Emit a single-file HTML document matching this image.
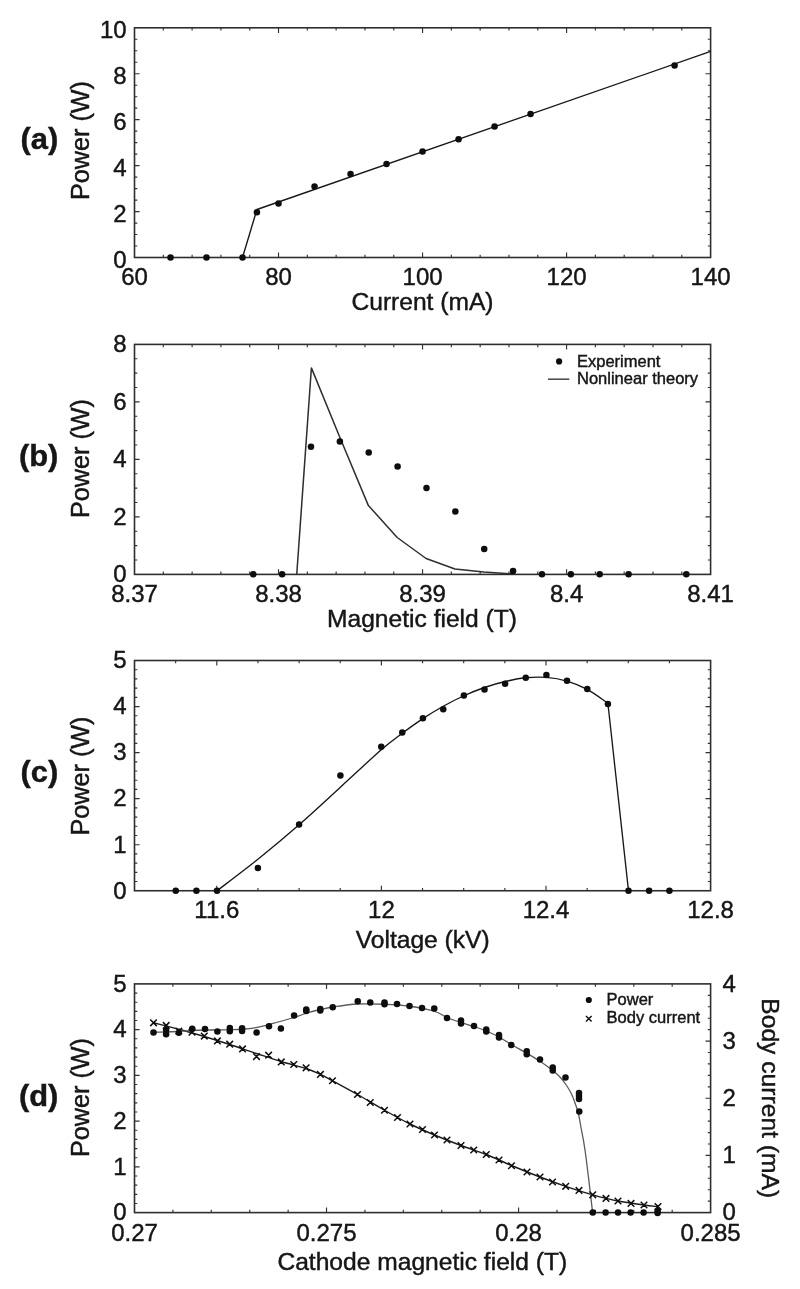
<!DOCTYPE html>
<html lang="en">
<head>
<meta charset="utf-8">
<title>Figure: power versus current, magnetic field, voltage and cathode magnetic field</title>
<style>
html,body{margin:0;padding:0;background:#fff;}
body{width:800px;height:1289px;overflow:hidden;}
svg{display:block;}
svg text{font-family:"Liberation Sans", sans-serif;fill:#141414;stroke:#141414;stroke-width:0.42px;}
</style>
</head>
<body>
<svg width="800" height="1289" viewBox="0 0 800 1289">
<rect width="800" height="1289" fill="#ffffff"/>
<g filter="url(#soft)">
<rect x="134.5" y="27.8" width="576.1" height="229.7" fill="none" stroke="#2e2e2e" stroke-width="1.6"/>
<path d="M163.31 257.5v-2.8M163.31 27.8v2.8M192.11 257.5v-2.8M192.11 27.8v2.8M220.92 257.5v-2.8M220.92 27.8v2.8M249.72 257.5v-2.8M249.72 27.8v2.8M278.52 257.5v-5.1M278.52 27.8v5.1M307.33 257.5v-2.8M307.33 27.8v2.8M336.13 257.5v-2.8M336.13 27.8v2.8M364.94 257.5v-2.8M364.94 27.8v2.8M393.75 257.5v-2.8M393.75 27.8v2.8M422.55 257.5v-5.1M422.55 27.8v5.1M451.36 257.5v-2.8M451.36 27.8v2.8M480.16 257.5v-2.8M480.16 27.8v2.8M508.97 257.5v-2.8M508.97 27.8v2.8M537.77 257.5v-2.8M537.77 27.8v2.8M566.58 257.5v-5.1M566.58 27.8v5.1M595.38 257.5v-2.8M595.38 27.8v2.8M624.18 257.5v-2.8M624.18 27.8v2.8M652.99 257.5v-2.8M652.99 27.8v2.8M681.79 257.5v-2.8M681.79 27.8v2.8M134.5 246.01h2.8M710.6 246.01h-2.8M134.5 234.53h2.8M710.6 234.53h-2.8M134.5 223.05h2.8M710.6 223.05h-2.8M134.5 211.56h5.1M710.6 211.56h-5.1M134.5 200.07h2.8M710.6 200.07h-2.8M134.5 188.59h2.8M710.6 188.59h-2.8M134.5 177.11h2.8M710.6 177.11h-2.8M134.5 165.62h5.1M710.6 165.62h-5.1M134.5 154.13h2.8M710.6 154.13h-2.8M134.5 142.65h2.8M710.6 142.65h-2.8M134.5 131.16h2.8M710.6 131.16h-2.8M134.5 119.68h5.1M710.6 119.68h-5.1M134.5 108.19h2.8M710.6 108.19h-2.8M134.5 96.71h2.8M710.6 96.71h-2.8M134.5 85.23h2.8M710.6 85.23h-2.8M134.5 73.74h5.1M710.6 73.74h-5.1M134.5 62.26h2.8M710.6 62.26h-2.8M134.5 50.77h2.8M710.6 50.77h-2.8M134.5 39.29h2.8M710.6 39.29h-2.8" stroke="#333" stroke-width="1.15" fill="none"/>
<text transform="translate(134.5 284.7) scale(1.0 1)" font-size="24" text-anchor="middle">60</text>
<text transform="translate(278.52 284.7) scale(1.0 1)" font-size="24" text-anchor="middle">80</text>
<text transform="translate(422.55 284.7) scale(1.0 1)" font-size="24" text-anchor="middle">100</text>
<text transform="translate(566.58 284.7) scale(1.0 1)" font-size="24" text-anchor="middle">120</text>
<text transform="translate(710.6 284.7) scale(1.0 1)" font-size="24" text-anchor="middle">140</text>
<text transform="translate(126.6 268) scale(1.0 1)" font-size="24" text-anchor="end">0</text>
<text transform="translate(126.6 222.06) scale(1.0 1)" font-size="24" text-anchor="end">2</text>
<text transform="translate(126.6 176.12) scale(1.0 1)" font-size="24" text-anchor="end">4</text>
<text transform="translate(126.6 130.18) scale(1.0 1)" font-size="24" text-anchor="end">6</text>
<text transform="translate(126.6 84.24) scale(1.0 1)" font-size="24" text-anchor="end">8</text>
<text transform="translate(126.6 38.3) scale(1.0 1)" font-size="24" text-anchor="end">10</text>
<path d="M242.52 257.5L256.92 209.49L710.6 51.46" stroke="#161616" stroke-width="1.35" fill="none" stroke-linejoin="round"/>
<g fill="#0a0a0a"><circle cx="170.51" cy="257.5" r="3.25"/><circle cx="206.51" cy="257.5" r="3.25"/><circle cx="242.52" cy="257.5" r="3.25"/><circle cx="256.92" cy="212.25" r="3.25"/><circle cx="278.52" cy="203.52" r="3.25"/><circle cx="314.53" cy="186.52" r="3.25"/><circle cx="350.54" cy="174.12" r="3.25"/><circle cx="386.54" cy="164.01" r="3.25"/><circle cx="422.55" cy="151.38" r="3.25"/><circle cx="458.56" cy="139.2" r="3.25"/><circle cx="494.56" cy="126.57" r="3.25"/><circle cx="530.57" cy="113.94" r="3.25"/><circle cx="674.59" cy="65.47" r="3.25"/></g>
<text transform="translate(422.5 310.3) scale(1.025 1)" font-size="24" text-anchor="middle">Current (mA)</text>
<text transform="translate(89 140.5) rotate(-90) scale(1 1)" font-size="25.2" text-anchor="middle">Power (W)</text>
<text transform="translate(39.4 149.2) scale(1.03 1)" font-size="30" text-anchor="middle" font-weight="bold">(a)</text>
<rect x="134.5" y="344.4" width="576.1" height="230" fill="none" stroke="#2e2e2e" stroke-width="1.6"/>
<path d="M163.31 574.4v-2.8M163.31 344.4v2.8M192.11 574.4v-2.8M192.11 344.4v2.8M220.92 574.4v-2.8M220.92 344.4v2.8M249.72 574.4v-2.8M249.72 344.4v2.8M278.52 574.4v-5.1M278.52 344.4v5.1M307.33 574.4v-2.8M307.33 344.4v2.8M336.13 574.4v-2.8M336.13 344.4v2.8M364.94 574.4v-2.8M364.94 344.4v2.8M393.75 574.4v-2.8M393.75 344.4v2.8M422.55 574.4v-5.1M422.55 344.4v5.1M451.35 574.4v-2.8M451.35 344.4v2.8M480.16 574.4v-2.8M480.16 344.4v2.8M508.96 574.4v-2.8M508.96 344.4v2.8M537.77 574.4v-2.8M537.77 344.4v2.8M566.57 574.4v-5.1M566.57 344.4v5.1M595.38 574.4v-2.8M595.38 344.4v2.8M624.18 574.4v-2.8M624.18 344.4v2.8M652.99 574.4v-2.8M652.99 344.4v2.8M681.79 574.4v-2.8M681.79 344.4v2.8M134.5 560.02h2.8M710.6 560.02h-2.8M134.5 545.65h2.8M710.6 545.65h-2.8M134.5 531.27h2.8M710.6 531.27h-2.8M134.5 516.9h5.1M710.6 516.9h-5.1M134.5 502.52h2.8M710.6 502.52h-2.8M134.5 488.15h2.8M710.6 488.15h-2.8M134.5 473.77h2.8M710.6 473.77h-2.8M134.5 459.4h5.1M710.6 459.4h-5.1M134.5 445.02h2.8M710.6 445.02h-2.8M134.5 430.65h2.8M710.6 430.65h-2.8M134.5 416.27h2.8M710.6 416.27h-2.8M134.5 401.9h5.1M710.6 401.9h-5.1M134.5 387.52h2.8M710.6 387.52h-2.8M134.5 373.15h2.8M710.6 373.15h-2.8M134.5 358.77h2.8M710.6 358.77h-2.8" stroke="#333" stroke-width="1.15" fill="none"/>
<text transform="translate(134.5 601.6) scale(1.0 1)" font-size="24" text-anchor="middle">8.37</text>
<text transform="translate(278.52 601.6) scale(1.0 1)" font-size="24" text-anchor="middle">8.38</text>
<text transform="translate(422.55 601.6) scale(1.0 1)" font-size="24" text-anchor="middle">8.39</text>
<text transform="translate(566.57 601.6) scale(1.0 1)" font-size="24" text-anchor="middle">8.4</text>
<text transform="translate(710.6 601.6) scale(1.0 1)" font-size="24" text-anchor="middle">8.41</text>
<text transform="translate(126.6 582.2) scale(1.0 1)" font-size="24" text-anchor="end">0</text>
<text transform="translate(126.6 524.7) scale(1.0 1)" font-size="24" text-anchor="end">2</text>
<text transform="translate(126.6 467.2) scale(1.0 1)" font-size="24" text-anchor="end">4</text>
<text transform="translate(126.6 409.7) scale(1.0 1)" font-size="24" text-anchor="end">6</text>
<text transform="translate(126.6 352.2) scale(1.0 1)" font-size="24" text-anchor="end">8</text>
<path d="M296.75 574.4L311.4 367.9L339.5 436.5L368.4 505.6L397.2 537.5L426.1 558.5L455 569L483.9 572L512.7 574" stroke="#2e2e2e" stroke-width="1.5" fill="none" stroke-linejoin="round"/>
<g fill="#0a0a0a"><circle cx="253.25" cy="574.2" r="3.25"/><circle cx="282.12" cy="574.2" r="3.25"/><circle cx="310.99" cy="446.7" r="3.25"/><circle cx="339.86" cy="441.5" r="3.25"/><circle cx="368.73" cy="452.4" r="3.25"/><circle cx="397.6" cy="466.6" r="3.25"/><circle cx="426.47" cy="488" r="3.25"/><circle cx="455.34" cy="511.6" r="3.25"/><circle cx="484.21" cy="549.1" r="3.25"/><circle cx="513.08" cy="570.9" r="3.25"/><circle cx="541.95" cy="574.2" r="3.25"/><circle cx="570.82" cy="574.2" r="3.25"/><circle cx="599.69" cy="574.2" r="3.25"/><circle cx="628.56" cy="574.2" r="3.25"/><circle cx="686.3" cy="574.2" r="3.25"/></g>
<g fill="#0a0a0a"><circle cx="559.1" cy="361.4" r="3.1"/></g>
<line x1="548" y1="379.2" x2="569.3" y2="379.2" stroke="#444" stroke-width="1.5"/>
<text transform="translate(577 366.6) scale(1.0 1)" font-size="16.5" text-anchor="start">Experiment</text>
<text transform="translate(577 384.3) scale(1.0 1)" font-size="16.5" text-anchor="start">Nonlinear theory</text>
<text transform="translate(422 626.6) scale(1.025 1)" font-size="24" text-anchor="middle">Magnetic field (T)</text>
<text transform="translate(89 458.5) rotate(-90) scale(1 1)" font-size="25.2" text-anchor="middle">Power (W)</text>
<text transform="translate(38.6 466.2) scale(1.03 1)" font-size="30" text-anchor="middle" font-weight="bold">(b)</text>
<rect x="134.5" y="660.5" width="576.1" height="230.25" fill="none" stroke="#2e2e2e" stroke-width="1.6"/>
<path d="M175.65 890.75v-2.8M175.65 660.5v2.8M216.8 890.75v-5.1M216.8 660.5v5.1M257.95 890.75v-2.8M257.95 660.5v2.8M299.1 890.75v-2.8M299.1 660.5v2.8M340.25 890.75v-2.8M340.25 660.5v2.8M381.4 890.75v-5.1M381.4 660.5v5.1M422.55 890.75v-2.8M422.55 660.5v2.8M463.7 890.75v-2.8M463.7 660.5v2.8M504.85 890.75v-2.8M504.85 660.5v2.8M546 890.75v-5.1M546 660.5v5.1M587.15 890.75v-2.8M587.15 660.5v2.8M628.3 890.75v-2.8M628.3 660.5v2.8M669.45 890.75v-2.8M669.45 660.5v2.8M134.5 881.54h2.8M710.6 881.54h-2.8M134.5 872.33h2.8M710.6 872.33h-2.8M134.5 863.12h2.8M710.6 863.12h-2.8M134.5 853.91h2.8M710.6 853.91h-2.8M134.5 844.7h5.1M710.6 844.7h-5.1M134.5 835.49h2.8M710.6 835.49h-2.8M134.5 826.28h2.8M710.6 826.28h-2.8M134.5 817.07h2.8M710.6 817.07h-2.8M134.5 807.86h2.8M710.6 807.86h-2.8M134.5 798.65h5.1M710.6 798.65h-5.1M134.5 789.44h2.8M710.6 789.44h-2.8M134.5 780.23h2.8M710.6 780.23h-2.8M134.5 771.02h2.8M710.6 771.02h-2.8M134.5 761.81h2.8M710.6 761.81h-2.8M134.5 752.6h5.1M710.6 752.6h-5.1M134.5 743.39h2.8M710.6 743.39h-2.8M134.5 734.18h2.8M710.6 734.18h-2.8M134.5 724.97h2.8M710.6 724.97h-2.8M134.5 715.76h2.8M710.6 715.76h-2.8M134.5 706.55h5.1M710.6 706.55h-5.1M134.5 697.34h2.8M710.6 697.34h-2.8M134.5 688.13h2.8M710.6 688.13h-2.8M134.5 678.92h2.8M710.6 678.92h-2.8M134.5 669.71h2.8M710.6 669.71h-2.8" stroke="#333" stroke-width="1.15" fill="none"/>
<text transform="translate(216.8 917.95) scale(1.0 1)" font-size="24" text-anchor="middle">11.6</text>
<text transform="translate(381.4 917.95) scale(1.0 1)" font-size="24" text-anchor="middle">12</text>
<text transform="translate(546 917.95) scale(1.0 1)" font-size="24" text-anchor="middle">12.4</text>
<text transform="translate(710.6 917.95) scale(1.0 1)" font-size="24" text-anchor="middle">12.8</text>
<text transform="translate(126.6 898.55) scale(1.0 1)" font-size="24" text-anchor="end">0</text>
<text transform="translate(126.6 852.5) scale(1.0 1)" font-size="24" text-anchor="end">1</text>
<text transform="translate(126.6 806.45) scale(1.0 1)" font-size="24" text-anchor="end">2</text>
<text transform="translate(126.6 760.4) scale(1.0 1)" font-size="24" text-anchor="end">3</text>
<text transform="translate(126.6 714.35) scale(1.0 1)" font-size="24" text-anchor="end">4</text>
<text transform="translate(126.6 668.3) scale(1.0 1)" font-size="24" text-anchor="end">5</text>
<path d="M217 890.75C223.82 885.5 244.22 870.25 257.9 859.25C271.58 848.25 285.35 836.75 299.1 824.75C312.85 812.75 326.71 799.75 340.4 787.25C354.09 774.75 370.94 758.75 381.25 749.75C391.56 740.75 395.31 738.44 402.25 733.25C409.19 728.06 416.07 723.1 422.9 718.6C429.73 714.1 436.42 710.06 443.25 706.25C450.08 702.44 457.02 698.88 463.9 695.75C470.77 692.62 477.63 689.88 484.5 687.5C491.37 685.12 498.23 683.12 505.1 681.5C511.98 679.88 518.87 678.43 525.75 677.75C532.63 677.07 539.52 676.84 546.4 677.4C553.27 677.96 560.19 679.1 567 681.1C573.81 683.1 580.43 685.71 587.25 689.4C594.07 693.09 604.46 700.94 607.9 703.25L628.5 890.75" stroke="#161616" stroke-width="1.35" fill="none" stroke-linejoin="round"/>
<g fill="#0a0a0a"><circle cx="175.75" cy="890.75" r="3.25"/><circle cx="196.4" cy="890.75" r="3.25"/><circle cx="217" cy="890.75" r="3.25"/><circle cx="257.9" cy="867.9" r="3.25"/><circle cx="299.1" cy="824.4" r="3.25"/><circle cx="340.4" cy="775.6" r="3.25"/><circle cx="381.25" cy="746.75" r="3.25"/><circle cx="402.25" cy="732.5" r="3.25"/><circle cx="422.9" cy="718.25" r="3.25"/><circle cx="443.25" cy="709.25" r="3.25"/><circle cx="463.9" cy="695.4" r="3.25"/><circle cx="484.5" cy="689.4" r="3.25"/><circle cx="505.1" cy="683.75" r="3.25"/><circle cx="525.75" cy="677.75" r="3.25"/><circle cx="546.4" cy="675.1" r="3.25"/><circle cx="567" cy="680.75" r="3.25"/><circle cx="587.25" cy="689" r="3.25"/><circle cx="607.9" cy="704" r="3.25"/><circle cx="628.5" cy="890.75" r="3.25"/><circle cx="649.1" cy="890.75" r="3.25"/><circle cx="669.4" cy="890.75" r="3.25"/></g>
<text transform="translate(422.7 948) scale(1.025 1)" font-size="24" text-anchor="middle">Voltage (kV)</text>
<text transform="translate(89 776) rotate(-90) scale(1 1)" font-size="25.2" text-anchor="middle">Power (W)</text>
<text transform="translate(39.4 782.4) scale(1.03 1)" font-size="30" text-anchor="middle" font-weight="bold">(c)</text>
<rect x="134.5" y="983.9" width="576.1" height="228.7" fill="none" stroke="#2e2e2e" stroke-width="1.6"/>
<text transform="translate(722.6 1220.2) scale(1.0 1)" font-size="24" text-anchor="start">0</text>
<text transform="translate(722.6 1163.02) scale(1.0 1)" font-size="24" text-anchor="start">1</text>
<text transform="translate(722.6 1105.85) scale(1.0 1)" font-size="24" text-anchor="start">2</text>
<text transform="translate(722.6 1048.67) scale(1.0 1)" font-size="24" text-anchor="start">3</text>
<text transform="translate(722.6 991.5) scale(1.0 1)" font-size="24" text-anchor="start">4</text>
<path d="M172.91 1212.6v-2.8M172.91 983.9v2.8M211.31 1212.6v-2.8M211.31 983.9v2.8M249.72 1212.6v-2.8M249.72 983.9v2.8M288.13 1212.6v-2.8M288.13 983.9v2.8M326.53 1212.6v-5.1M326.53 983.9v5.1M364.94 1212.6v-2.8M364.94 983.9v2.8M403.35 1212.6v-2.8M403.35 983.9v2.8M441.75 1212.6v-2.8M441.75 983.9v2.8M480.16 1212.6v-2.8M480.16 983.9v2.8M518.57 1212.6v-5.1M518.57 983.9v5.1M556.97 1212.6v-2.8M556.97 983.9v2.8M595.38 1212.6v-2.8M595.38 983.9v2.8M633.79 1212.6v-2.8M633.79 983.9v2.8M672.19 1212.6v-2.8M672.19 983.9v2.8M134.5 1203.45h2.8M134.5 1194.3h2.8M134.5 1185.16h2.8M134.5 1176.01h2.8M134.5 1166.86h5.1M134.5 1157.71h2.8M134.5 1148.56h2.8M134.5 1139.42h2.8M134.5 1130.27h2.8M134.5 1121.12h5.1M134.5 1111.97h2.8M134.5 1102.82h2.8M134.5 1093.68h2.8M134.5 1084.53h2.8M134.5 1075.38h5.1M134.5 1066.23h2.8M134.5 1057.08h2.8M134.5 1047.94h2.8M134.5 1038.79h2.8M134.5 1029.64h5.1M134.5 1020.49h2.8M134.5 1011.34h2.8M134.5 1002.2h2.8M134.5 993.05h2.8M710.6 1201.16h-2.8M710.6 1189.73h-2.8M710.6 1178.29h-2.8M710.6 1166.86h-2.8M710.6 1155.42h-5.1M710.6 1143.99h-2.8M710.6 1132.55h-2.8M710.6 1121.12h-2.8M710.6 1109.68h-2.8M710.6 1098.25h-5.1M710.6 1086.82h-2.8M710.6 1075.38h-2.8M710.6 1063.94h-2.8M710.6 1052.51h-2.8M710.6 1041.08h-5.1M710.6 1029.64h-2.8M710.6 1018.2h-2.8M710.6 1006.77h-2.8M710.6 995.33h-2.8" stroke="#333" stroke-width="1.15" fill="none"/>
<text transform="translate(134.5 1241.4) scale(1.0 1)" font-size="24" text-anchor="middle">0.27</text>
<text transform="translate(326.53 1241.4) scale(1.0 1)" font-size="24" text-anchor="middle">0.275</text>
<text transform="translate(518.57 1241.4) scale(1.0 1)" font-size="24" text-anchor="middle">0.28</text>
<text transform="translate(710.6 1241.4) scale(1.0 1)" font-size="24" text-anchor="middle">0.285</text>
<text transform="translate(126.6 1220.4) scale(1.0 1)" font-size="24" text-anchor="end">0</text>
<text transform="translate(126.6 1174.66) scale(1.0 1)" font-size="24" text-anchor="end">1</text>
<text transform="translate(126.6 1128.92) scale(1.0 1)" font-size="24" text-anchor="end">2</text>
<text transform="translate(126.6 1083.18) scale(1.0 1)" font-size="24" text-anchor="end">3</text>
<text transform="translate(126.6 1037.44) scale(1.0 1)" font-size="24" text-anchor="end">4</text>
<text transform="translate(126.6 991.7) scale(1.0 1)" font-size="24" text-anchor="end">5</text>
<path d="M153.5 1022.8C157.92 1023.92 171.53 1027.22 180 1029.5C188.47 1031.78 196.02 1034 204.3 1036.5C212.58 1039 221 1041.67 229.7 1044.5C238.4 1047.33 247.95 1050.67 256.5 1053.5C265.05 1056.33 272.75 1059 281 1061.5C289.25 1064 299.43 1066.35 306 1068.5C312.57 1070.65 315.98 1072.36 320.4 1074.4C324.82 1076.44 326.32 1077.4 332.5 1080.75C338.68 1084.1 348.83 1089.58 357.5 1094.5C366.17 1099.42 375.75 1105.33 384.5 1110.25C393.25 1115.17 401.67 1119.88 410 1124C418.33 1128.12 426 1131.42 434.5 1135C443 1138.58 452.38 1142.25 461 1145.5C469.62 1148.75 477.83 1151.17 486.25 1154.5C494.67 1157.83 502.54 1161.75 511.5 1165.5C520.46 1169.25 530.97 1173.53 540 1177C549.03 1180.47 556.91 1183.33 565.7 1186.3C574.49 1189.27 584.03 1192.35 592.75 1194.8C601.47 1197.25 609.46 1199.3 618 1201C626.54 1202.7 637.33 1204.07 644 1205C650.67 1205.93 655.67 1206.33 658 1206.6" stroke="#1c1c1c" stroke-width="1.4" fill="none" stroke-linejoin="round"/>
<path d="M153.5 1032.25C157.7 1032.12 172.25 1031.79 178.7 1031.5C185.15 1031.21 187.82 1030.75 192.2 1030.5C196.58 1030.25 200.82 1030.08 205 1030C209.18 1029.92 213.13 1030.05 217.25 1030C221.37 1029.95 225.57 1029.83 229.7 1029.7C233.82 1029.58 237.62 1029.6 242 1029.25C246.38 1028.9 251.5 1028.39 256 1027.6C260.5 1026.81 262.67 1026.18 269 1024.5C275.33 1022.82 287.79 1019.38 294 1017.5C300.21 1015.62 301.88 1014.58 306.25 1013.25C310.62 1011.92 315.83 1010.54 320.25 1009.5C324.67 1008.46 326.5 1007.92 332.75 1007C339 1006.08 349.12 1004.46 357.75 1004C366.38 1003.54 375.88 1003.88 384.5 1004.25C393.12 1004.62 401.21 1005.08 409.5 1006.25C417.79 1007.42 428 1009.38 434.25 1011.25C440.5 1013.12 442.54 1015.62 447 1017.5C451.46 1019.38 456.5 1021 461 1022.5C465.5 1024 469.79 1025.08 474 1026.5C478.21 1027.92 482.08 1029.25 486.25 1031C490.42 1032.75 494.83 1034.75 499 1037C503.17 1039.25 506.62 1041.79 511.25 1044.5C515.88 1047.21 521.96 1050.46 526.75 1053.25C531.54 1056.04 535.67 1058.38 540 1061.25C544.33 1064.12 549.42 1067.88 552.75 1070.5C556.08 1073.12 557.75 1074.58 560 1077C562.25 1079.42 564.33 1082.17 566.25 1085C568.17 1087.83 569.99 1090.88 571.5 1094C573.01 1097.12 574.15 1100.5 575.3 1103.75C576.45 1107 577.45 1109.54 578.4 1113.5C579.35 1117.46 579.9 1121.42 581 1127.5C582.1 1133.58 583.5 1139.58 585 1150C586.5 1160.42 588.73 1179.58 590 1190C591.27 1200.42 592.17 1208.75 592.6 1212.5" stroke="#5a5a5a" stroke-width="1.3" fill="none" stroke-linejoin="round"/>
<path d="M150.2 1019.5L156.8 1026.1M150.2 1026.1L156.8 1019.5M162.9 1022.1L169.5 1028.7M162.9 1028.7L169.5 1022.1M175.5 1027.7L182.1 1034.3M175.5 1034.3L182.1 1027.7M188.7 1028.9L195.3 1035.5M188.7 1035.5L195.3 1028.9M201 1032.8L207.6 1039.4M201 1039.4L207.6 1032.8M214.1 1037.6L220.7 1044.2M214.1 1044.2L220.7 1037.6M226.4 1040.9L233 1047.5M226.4 1047.5L233 1040.9M239.2 1045.6L245.8 1052.2M239.2 1052.2L245.8 1045.6M253.2 1053.3L259.8 1059.9M253.2 1059.9L259.8 1053.3M265.3 1051.9L271.9 1058.5M265.3 1058.5L271.9 1051.9M277.95 1058.6L284.55 1065.2M277.95 1065.2L284.55 1058.6M290.45 1061.2L297.05 1067.8M290.45 1067.8L297.05 1061.2M302.8 1064.5L309.4 1071.1M302.8 1071.1L309.4 1064.5M317.1 1071.1L323.7 1077.7M317.1 1077.7L323.7 1071.1M329.2 1077.45L335.8 1084.05M329.2 1084.05L335.8 1077.45M354.2 1091.2L360.8 1097.8M354.2 1097.8L360.8 1091.2M366.95 1099.2L373.55 1105.8M366.95 1105.8L373.55 1099.2M381.2 1106.95L387.8 1113.55M381.2 1113.55L387.8 1106.95M394.2 1114.2L400.8 1120.8M394.2 1120.8L400.8 1114.2M406.7 1120.7L413.3 1127.3M406.7 1127.3L413.3 1120.7M419.2 1126.2L425.8 1132.8M419.2 1132.8L425.8 1126.2M431.2 1131.7L437.8 1138.3M431.2 1138.3L437.8 1131.7M443.7 1136.7L450.3 1143.3M443.7 1143.3L450.3 1136.7M457.7 1142.2L464.3 1148.8M457.7 1148.8L464.3 1142.2M470.45 1146.7L477.05 1153.3M470.45 1153.3L477.05 1146.7M482.95 1151.2L489.55 1157.8M482.95 1157.8L489.55 1151.2M495.7 1156.7L502.3 1163.3M495.7 1163.3L502.3 1156.7M508.2 1162.45L514.8 1169.05M508.2 1169.05L514.8 1162.45M523.7 1168.7L530.3 1175.3M523.7 1175.3L530.3 1168.7M536.7 1173.7L543.3 1180.3M536.7 1180.3L543.3 1173.7M549.2 1178.7L555.8 1185.3M549.2 1185.3L555.8 1178.7M562.4 1183L569 1189.6M562.4 1189.6L569 1183M575.7 1187.1L582.3 1193.7M575.7 1193.7L582.3 1187.1M589.45 1191.5L596.05 1198.1M589.45 1198.1L596.05 1191.5M602.7 1195.1L609.3 1201.7M602.7 1201.7L609.3 1195.1M614.7 1197.7L621.3 1204.3M614.7 1204.3L621.3 1197.7M627.7 1200.1L634.3 1206.7M627.7 1206.7L634.3 1200.1M640.7 1201.7L647.3 1208.3M640.7 1208.3L647.3 1201.7M654.7 1203.3L661.3 1209.9M654.7 1209.9L661.3 1203.3" stroke="#111" stroke-width="1.5" fill="none"/>
<g fill="#0a0a0a"><circle cx="153.5" cy="1032.5" r="3.25"/><circle cx="166.1" cy="1030" r="3.25"/><circle cx="166.1" cy="1034.3" r="3.25"/><circle cx="178.8" cy="1032.8" r="3.25"/><circle cx="192.2" cy="1028.7" r="3.25"/><circle cx="205" cy="1029" r="3.25"/><circle cx="217.4" cy="1031.6" r="3.25"/><circle cx="229.8" cy="1027.9" r="3.25"/><circle cx="229.8" cy="1031.2" r="3.25"/><circle cx="242.1" cy="1028.2" r="3.25"/><circle cx="242.1" cy="1030.9" r="3.25"/><circle cx="256.6" cy="1032.5" r="3.25"/><circle cx="269" cy="1026.25" r="3.25"/><circle cx="280.9" cy="1028.4" r="3.25"/><circle cx="294.1" cy="1015.6" r="3.25"/><circle cx="306.25" cy="1009.4" r="3.25"/><circle cx="306.25" cy="1011" r="3.25"/><circle cx="320.25" cy="1009" r="3.25"/><circle cx="320.25" cy="1010.5" r="3.25"/><circle cx="332.75" cy="1007.25" r="3.25"/><circle cx="357.75" cy="1001.25" r="3.25"/><circle cx="370.25" cy="1002.5" r="3.25"/><circle cx="384.5" cy="1002.6" r="3.25"/><circle cx="384.5" cy="1004.2" r="3.25"/><circle cx="397" cy="1004" r="3.25"/><circle cx="409.5" cy="1006" r="3.25"/><circle cx="422" cy="1008" r="3.25"/><circle cx="434.25" cy="1008.5" r="3.25"/><circle cx="447" cy="1018" r="3.25"/><circle cx="461" cy="1020.5" r="3.25"/><circle cx="461" cy="1023.5" r="3.25"/><circle cx="474" cy="1026" r="3.25"/><circle cx="486.25" cy="1029.5" r="3.25"/><circle cx="486.25" cy="1031.5" r="3.25"/><circle cx="499" cy="1035" r="3.25"/><circle cx="499" cy="1037.5" r="3.25"/><circle cx="511.25" cy="1045" r="3.25"/><circle cx="526.75" cy="1051.25" r="3.25"/><circle cx="526.75" cy="1054.25" r="3.25"/><circle cx="540" cy="1059.5" r="3.25"/><circle cx="552.75" cy="1067.5" r="3.25"/><circle cx="552.75" cy="1070.5" r="3.25"/><circle cx="565.5" cy="1077.5" r="3.25"/><circle cx="579" cy="1093" r="3.25"/><circle cx="579" cy="1096" r="3.25"/><circle cx="579" cy="1099" r="3.25"/><circle cx="579.25" cy="1111.5" r="3.25"/><circle cx="592.75" cy="1212.6" r="3.25"/><circle cx="605.6" cy="1212.6" r="3.25"/><circle cx="618" cy="1212.6" r="3.25"/><circle cx="630.6" cy="1212.6" r="3.25"/><circle cx="643.6" cy="1212.6" r="3.25"/><circle cx="657.6" cy="1211" r="3.25"/><circle cx="657.6" cy="1213" r="3.25"/></g>
<g fill="#0a0a0a"><circle cx="588.8" cy="1000" r="3.1"/></g>
<path d="M586 1015.9L591.6 1021.5M586 1021.5L591.6 1015.9" stroke="#111" stroke-width="1.4" fill="none"/>
<text transform="translate(606.6 1005) scale(1.0 1)" font-size="16.5" text-anchor="start">Power</text>
<text transform="translate(606.6 1022.9) scale(1.0 1)" font-size="16.5" text-anchor="start">Body current</text>
<text transform="translate(422.3 1270) scale(1.025 1)" font-size="24" text-anchor="middle">Cathode magnetic field (T)</text>
<text transform="translate(89 1097.5) rotate(-90) scale(1 1)" font-size="25.2" text-anchor="middle">Power (W)</text>
<text transform="translate(761.6 1098.2) rotate(90) scale(1 1)" font-size="24.65" text-anchor="middle">Body current (mA)</text>
<text transform="translate(38.6 1106) scale(1.03 1)" font-size="30" text-anchor="middle" font-weight="bold">(d)</text>
</g>
<defs><filter id="soft" x="-2%" y="-2%" width="104%" height="104%"><feGaussianBlur stdDeviation="0.6"/></filter></defs>
</svg>
</body>
</html>
